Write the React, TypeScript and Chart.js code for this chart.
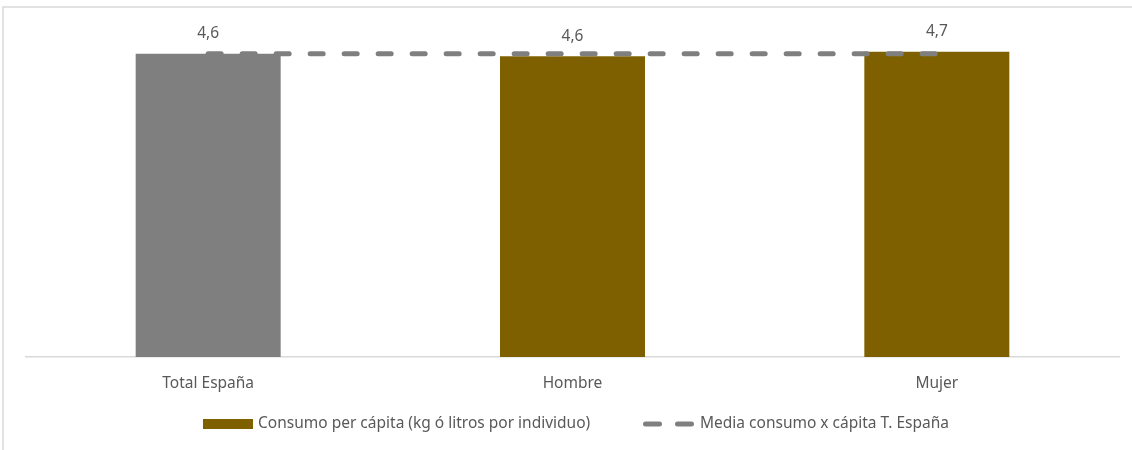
import React, { useEffect, useRef } from "react";
import { Chart, registerables } from "chart.js";

Chart.register(...registerables);

const categories = ["Total España", "Hombre", "Mujer"];
const consumoValues = [4.63, 4.59, 4.66];
const mediaValues = [4.63, 4.63, 4.63];
const barColors = ["#7F7F7F", "#7F6000", "#7F6000"];
const seriesNames = [
  "Consumo per cápita (kg ó litros por individuo)",
  "Media consumo x cápita T. España",
];

const FONT = "'Noto Sans', Lato, sans-serif";
const FONT_SIZE = 15.5;
const TEXT_COLOR = "#595959";
const FRAME_COLOR = "#D9D9D9";

const framePlugin = {
  id: "frame",
  beforeDraw(chart: any) {
    const ctx = chart.ctx;
    ctx.save();
    ctx.strokeStyle = FRAME_COLOR;
    ctx.lineWidth = 1.5;
    ctx.beginPath();
    ctx.moveTo(3, chart.height + 10);
    ctx.lineTo(3, 7);
    ctx.lineTo(chart.width + 10, 7);
    ctx.stroke();
    ctx.restore();
  },
};

const dataLabelPlugin = {
  id: "dataLabels",
  afterDatasetsDraw(chart: any) {
    const ctx = chart.ctx;
    const meta = chart.getDatasetMeta(0);
    ctx.save();
    ctx.fillStyle = TEXT_COLOR;
    ctx.font = `${FONT_SIZE}px ${FONT}`;
    ctx.textAlign = "center";
    ctx.textBaseline = "middle";
    meta.data.forEach((el: any, i: number) => {
      const v = chart.data.datasets[0].data[i] as number;
      ctx.fillText(v.toFixed(1).replace(".", ","), el.x, el.y - 20);
    });
    ctx.restore();
  },
};

const legendPlugin = {
  id: "customLegend",
  afterDraw(chart: any) {
    const ctx = chart.ctx;
    const y = 424;
    ctx.save();
    ctx.font = `${FONT_SIZE}px ${FONT}`;
    ctx.textBaseline = "middle";
    ctx.textAlign = "left";
    // item 1: bar
    const x1 = 203;
    ctx.fillStyle = barColors[1];
    ctx.fillRect(x1, y - 5, 50, 10);
    ctx.fillStyle = TEXT_COLOR;
    ctx.fillText(seriesNames[0], x1 + 55, y);
    // item 2: dashed line
    const x2 = 643;
    ctx.strokeStyle = "#7F7F7F";
    ctx.lineWidth = 5;
    ctx.lineCap = "round";
    ctx.setLineDash([14, 18]);
    ctx.beginPath();
    ctx.moveTo(x2 + 2.5, y);
    ctx.lineTo(x2 + 50, y);
    ctx.stroke();
    ctx.setLineDash([]);
    ctx.fillStyle = TEXT_COLOR;
    ctx.fillText(seriesNames[1], x2 + 57, y);
    ctx.restore();
  },
};

export default function App() {
  const canvasRef = useRef<HTMLCanvasElement | null>(null);

  useEffect(() => {
    document.body.style.margin = "0";
    const canvas = canvasRef.current;
    if (!canvas) return;
    const chart = new Chart(canvas, {
      type: "bar",
      data: {
        labels: categories,
        datasets: [
          {
            type: "bar",
            label: seriesNames[0],
            data: consumoValues,
            backgroundColor: barColors,
            borderWidth: 0,
            barPercentage: 0.398,
            categoryPercentage: 1,
            order: 2,
          },
          {
            type: "line",
            label: seriesNames[1],
            data: mediaValues,
            borderColor: "#7F7F7F",
            borderWidth: 5,
            borderDash: [13, 21],
            borderCapStyle: "round",
            pointRadius: 0,
            fill: false,
            order: 1,
          } as any,
        ],
      },
      options: {
        responsive: false,
        animation: false,
        devicePixelRatio: 1,
        layout: { padding: { top: 29.5, left: 26, right: 13, bottom: 40.5 } },
        plugins: {
          legend: { display: false },
          tooltip: { enabled: false },
        },
        scales: {
          x: {
            grid: { display: false, drawTicks: false },
            border: { display: true, color: FRAME_COLOR, width: 1.5 },
            ticks: { color: TEXT_COLOR, font: { family: FONT, size: FONT_SIZE }, padding: 17 },
          },
          y: { display: false, min: 0, max: 5 },
        },
      },
      plugins: [framePlugin, dataLabelPlugin, legendPlugin],
    });
    return () => chart.destroy();
  }, []);

  return (
    <div style={{ width: 1132, height: 450, background: "#fff" }}>
      <canvas ref={canvasRef} width={1132} height={450} />
    </div>
  );
}
